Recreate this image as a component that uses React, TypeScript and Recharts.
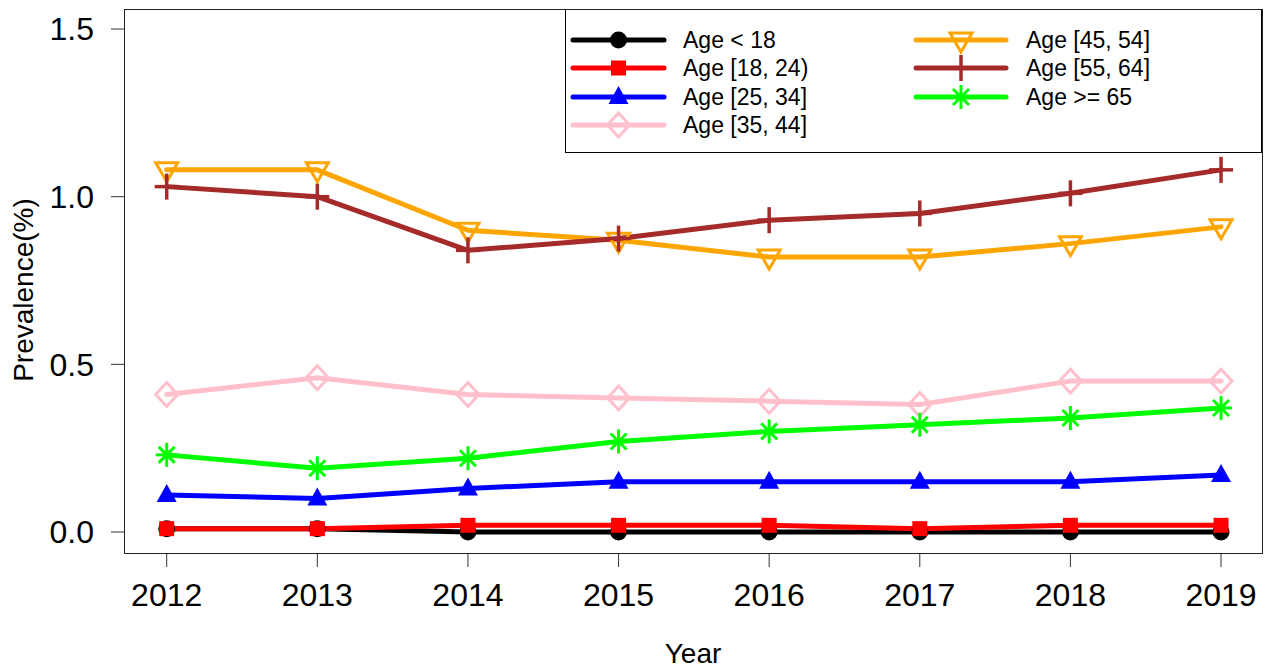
import React from "react"
import { LineChart, Line, XAxis, YAxis, Legend } from "recharts"

const years = [2012, 2013, 2014, 2015, 2016, 2017, 2018, 2019]
const ageUnder18 = [0.01, 0.01, 0.0, 0.0, 0.0, 0.0, 0.0, 0.0]
const age18to24 = [0.01, 0.01, 0.02, 0.02, 0.02, 0.01, 0.02, 0.02]
const age25to34 = [0.11, 0.1, 0.13, 0.15, 0.15, 0.15, 0.15, 0.17]
const age35to44 = [0.41, 0.46, 0.41, 0.4, 0.39, 0.38, 0.45, 0.45]
const age45to54 = [1.08, 1.08, 0.9, 0.87, 0.82, 0.82, 0.86, 0.91]
const age55to64 = [1.03, 1.0, 0.84, 0.875, 0.93, 0.95, 1.01, 1.08]
const age65plus = [0.23, 0.19, 0.22, 0.27, 0.3, 0.32, 0.34, 0.37]
const yTicks = [0, 0.5, 1, 1.5]

type Shape = "circle" | "square" | "triangle" | "diamond" | "triangleDown" | "plus" | "asterisk"

const series: { key: string; name: string; color: string; shape: Shape; values: number[] }[] = [
  { key: "u18", name: "Age < 18", color: "#000000", shape: "circle", values: ageUnder18 },
  { key: "a18", name: "Age [18, 24)", color: "#ff0000", shape: "square", values: age18to24 },
  { key: "a25", name: "Age [25, 34]", color: "#0000ff", shape: "triangle", values: age25to34 },
  { key: "a35", name: "Age [35, 44]", color: "#ffc0cb", shape: "diamond", values: age35to44 },
  { key: "a45", name: "Age [45, 54]", color: "#ffa500", shape: "triangleDown", values: age45to54 },
  { key: "a55", name: "Age [55, 64]", color: "#a52a2a", shape: "plus", values: age55to64 },
  { key: "a65", name: "Age >= 65", color: "#00ff00", shape: "asterisk", values: age65plus },
]

const data = years.map((year, i) => {
  const row: Record<string, number> = { year }
  series.forEach((s) => (row[s.key] = s.values[i]))
  return row
})

const FONT = "'Liberation Sans', Arial, sans-serif"

function Marker({ shape, cx, cy, color }: { shape: Shape; cx: number; cy: number; color: string }) {
  switch (shape) {
    case "circle":
      return <circle cx={cx} cy={cy} r={8.5} fill={color} />
    case "square":
      return <rect x={cx - 7.5} y={cy - 7.5} width={15} height={15} fill={color} />
    case "triangle":
      return <polygon points={`${cx},${cy - 11} ${cx - 10},${cy + 7} ${cx + 10},${cy + 7}`} fill={color} />
    case "diamond":
      return (
        <polygon
          points={`${cx},${cy - 12} ${cx + 11},${cy} ${cx},${cy + 12} ${cx - 11},${cy}`}
          fill="none"
          stroke={color}
          strokeWidth={3}
        />
      )
    case "triangleDown":
      return (
        <polygon
          points={`${cx - 11},${cy - 7} ${cx + 11},${cy - 7} ${cx},${cy + 12}`}
          fill="none"
          stroke={color}
          strokeWidth={3}
        />
      )
    case "plus":
      return (
        <g stroke={color} strokeWidth={3.5}>
          <line x1={cx - 12} y1={cy} x2={cx + 12} y2={cy} />
          <line x1={cx} y1={cy - 13} x2={cx} y2={cy + 13} />
        </g>
      )
    case "asterisk":
      return (
        <g stroke={color} strokeWidth={3}>
          <line x1={cx - 11} y1={cy} x2={cx + 11} y2={cy} />
          <line x1={cx} y1={cy - 12} x2={cx} y2={cy + 12} />
          <line x1={cx - 8} y1={cy - 8} x2={cx + 8} y2={cy + 8} />
          <line x1={cx - 8} y1={cy + 8} x2={cx + 8} y2={cy - 8} />
        </g>
      )
  }
  return null
}

// legend box in the top right corner, two columns like R's legend(ncol = 2)
function LegendBox() {
  const rows = [31, 59, 88, 116]
  const cols = [
    { x1: 8, x2: 99, text: 118 },
    { x1: 351, x2: 441, text: 461 },
  ]
  return (
    <svg width={697} height={144} style={{ display: "block" }}>
      <rect x={0.5} y={0.5} width={696} height={143} fill="#fff" stroke="#000" strokeWidth={1} />
      {series.map((s, i) => {
        const c = cols[i < 4 ? 0 : 1]
        const y = rows[i < 4 ? i : i - 4]
        const mid = (c.x1 + c.x2) / 2
        return (
          <g key={s.key}>
            <line x1={c.x1} y1={y} x2={c.x2} y2={y} stroke={s.color} strokeWidth={5} strokeLinecap="round" />
            <Marker shape={s.shape} cx={mid} cy={y} color={s.color} />
            <text x={c.text} y={y + 8} fontSize={23} fontFamily={FONT} fill="#000">
              {s.name}
            </text>
          </g>
        )
      })}
    </svg>
  )
}

export default function App() {
  return (
    <div style={{ position: "absolute", left: 0, top: 0, width: 1272, height: 669, background: "#fff" }}>
      <LineChart width={1272} height={669} data={data} margin={{ top: 9, right: 10, bottom: 0, left: 0 }}>
        <XAxis
          dataKey="year"
          type="number"
          domain={[2011.7165, 2019.272]}
          ticks={years}
          allowDataOverflow
          axisLine={false}
          tickLine={{ stroke: "#333" }}
          tickSize={14}
          tickMargin={16}
          height={116}
          tick={{ fontSize: 32, fill: "#000", fontFamily: FONT }}
          label={{ value: "Year", position: "insideBottom", offset: 6, fontSize: 28, fill: "#000", fontFamily: FONT }}
        />
        <YAxis
          type="number"
          domain={[-0.0626, 1.5597]}
          ticks={yTicks}
          allowDataOverflow
          axisLine={false}
          tickLine={{ stroke: "#333" }}
          tickSize={13}
          tickMargin={17}
          width={124}
          tickFormatter={(v: number) => v.toFixed(1)}
          tick={{ fontSize: 32, fill: "#000", fontFamily: FONT }}
          label={{
            content: (props: any) => {
              const vb = props.viewBox
              const x = vb.x + 33
              const y = vb.y + vb.height / 2 + 9
              return (
                <text
                  x={x}
                  y={y}
                  transform={`rotate(-90 ${x} ${y})`}
                  textAnchor="middle"
                  fontSize={28}
                  fontFamily={FONT}
                  fill="#000"
                >
                  Prevalence(%)
                </text>
              )
            },
          }}
        />
        <Legend
          layout="vertical"
          align="center"
          verticalAlign="middle"
          content={() => <LegendBox />}
          wrapperStyle={{ position: "absolute", top: 9, left: 565, width: 697, height: 144 }}
        />
        {series.map((s) => (
          <Line
            key={s.key}
            dataKey={s.key}
            name={s.name}
            type="linear"
            stroke={s.color}
            strokeWidth={5}
            strokeLinejoin="round"
            strokeLinecap="round"
            isAnimationActive={false}
            activeDot={false}
            dot={(p: any) => (
              <Marker key={`${s.key}-${p.index}`} shape={s.shape} cx={p.cx} cy={p.cy} color={s.color} />
            )}
          />
        ))}
      </LineChart>
      {/* plot frame, like R's box() */}
      <div
        style={{
          position: "absolute",
          left: 123.5,
          top: 8.5,
          width: 1139,
          height: 545,
          border: "1px solid #222",
          boxSizing: "border-box",
          pointerEvents: "none",
        }}
      />
    </div>
  )
}
